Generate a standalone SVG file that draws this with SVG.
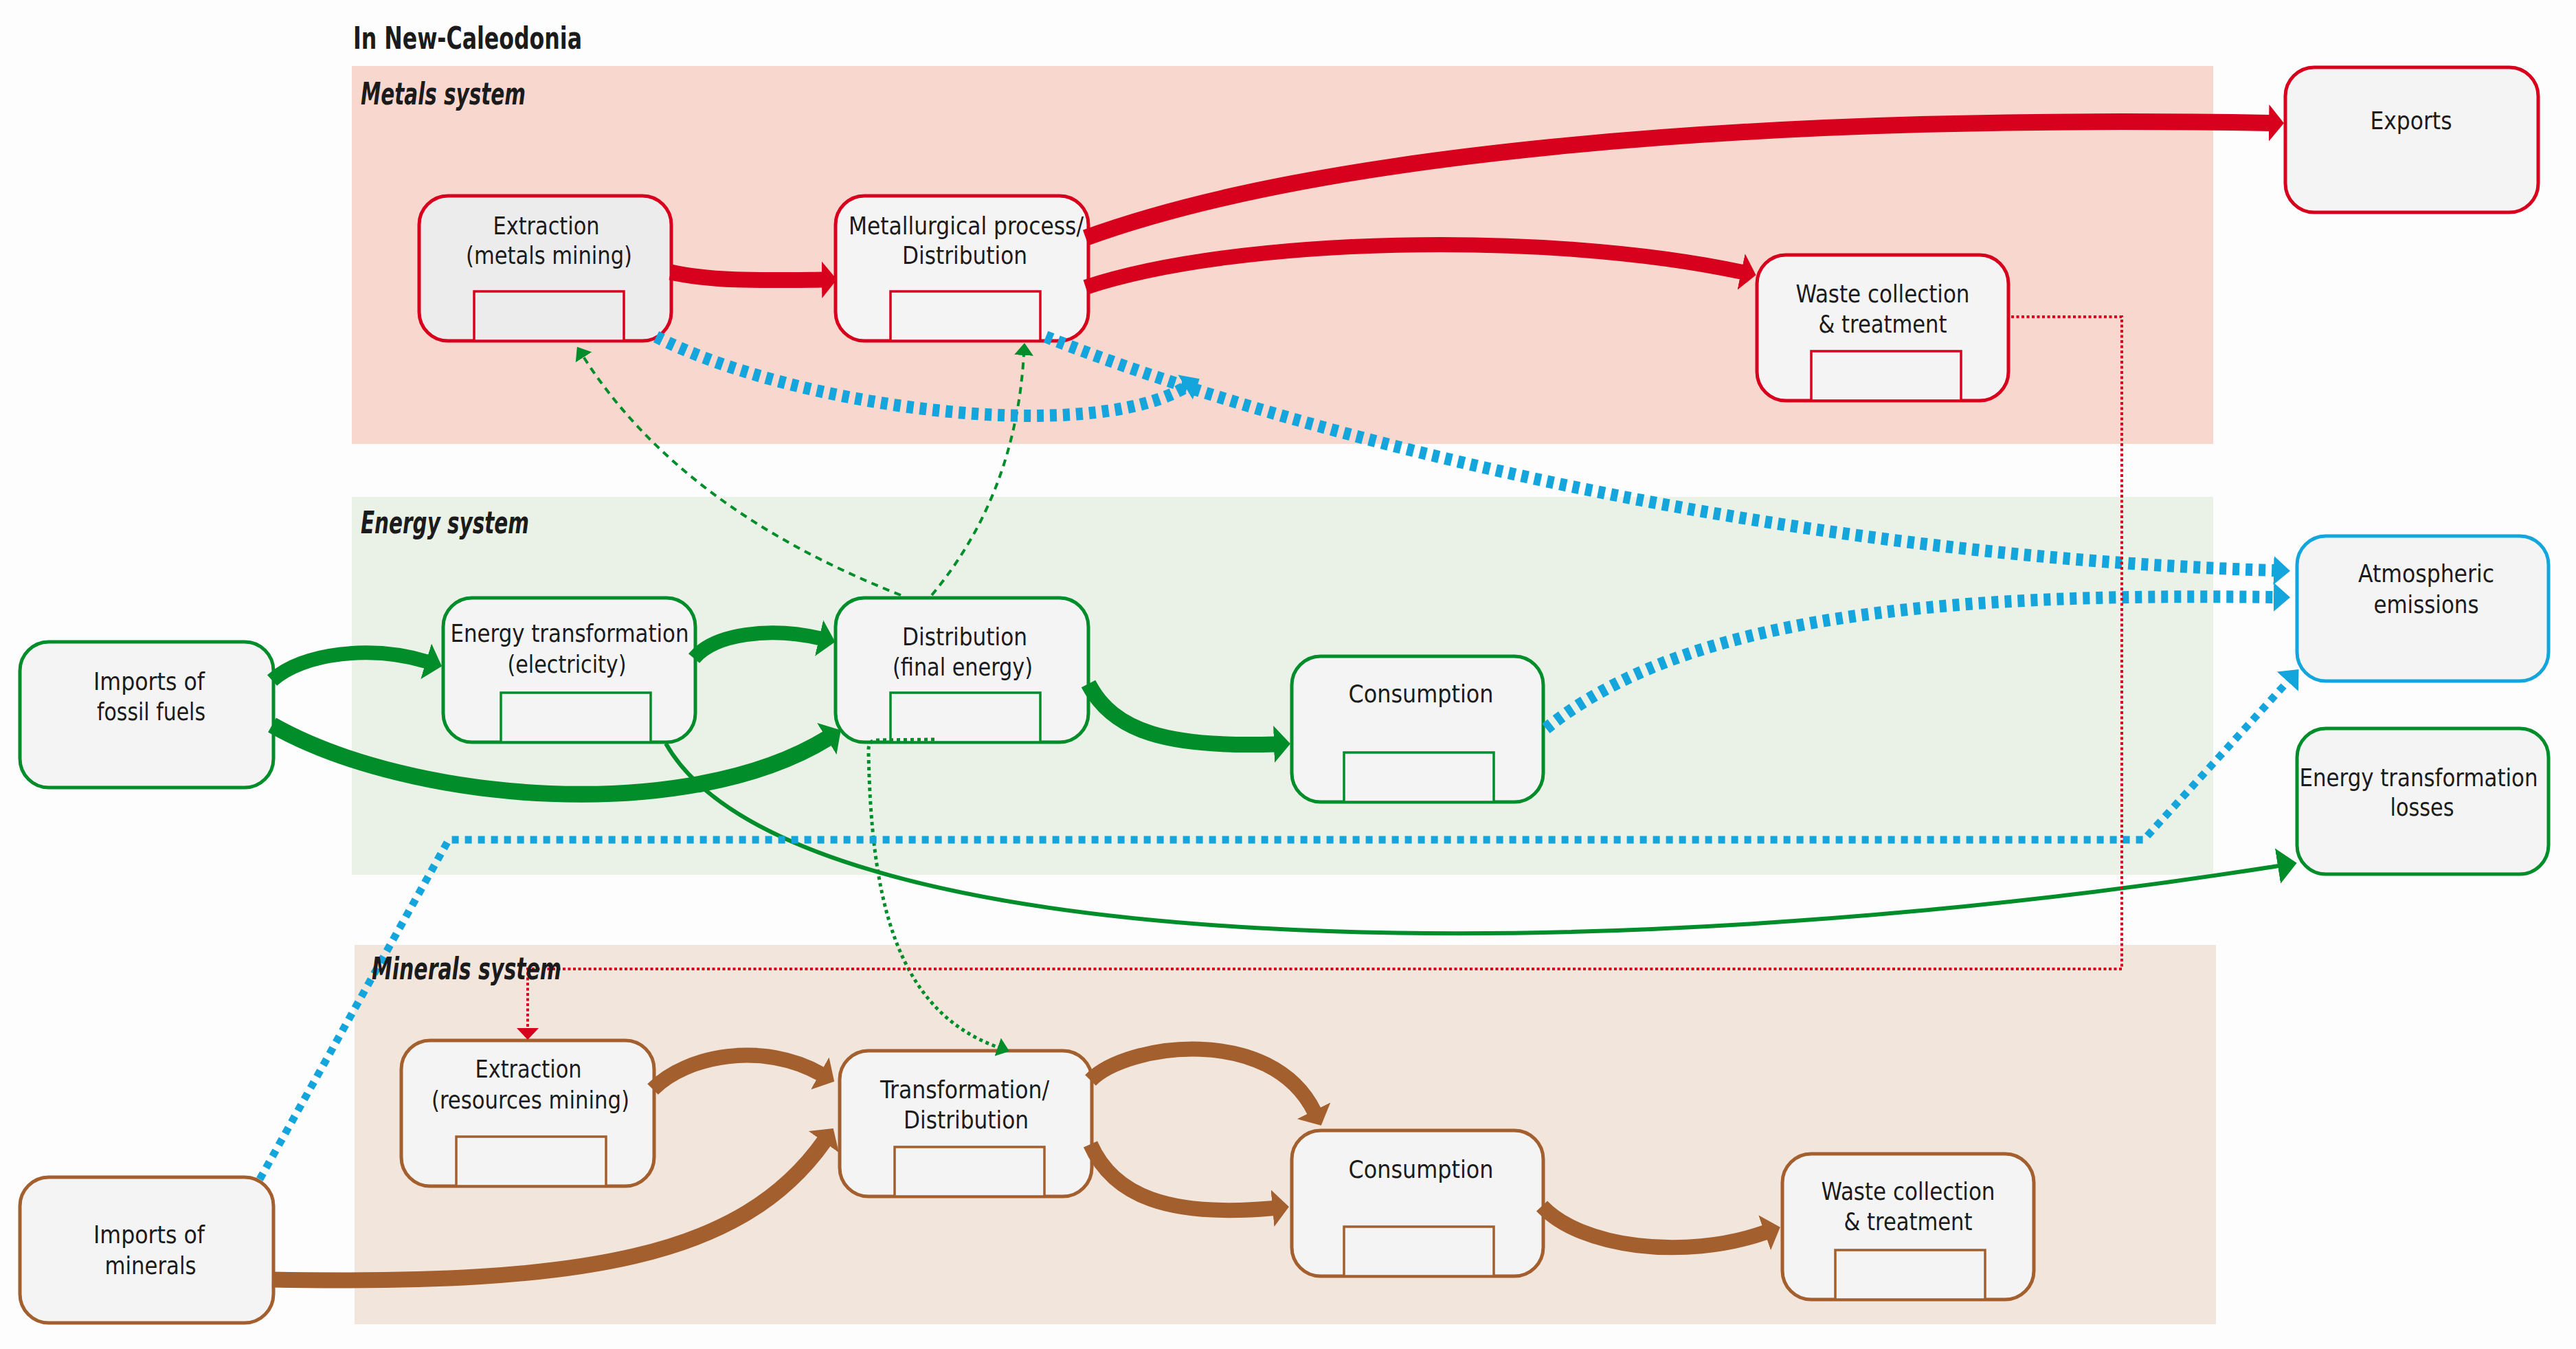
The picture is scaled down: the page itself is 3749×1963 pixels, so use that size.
<svg xmlns="http://www.w3.org/2000/svg" width="3749" height="1963" viewBox="0 0 3749 1963">
<style>
.node{stroke-width:5}
.inner{stroke-width:3.5}
.r{stroke:#d7001d}
.g{stroke:#008d2a}
.b{stroke:#a35f2d}
.bl{stroke:#13a5dc}
.t{font-family:"Liberation Sans Narrow","DejaVu Sans Condensed","Liberation Sans",sans-serif;font-size:36px;fill:#1b1b1b;text-anchor:middle}
.lab{font-family:"Liberation Sans Narrow","DejaVu Sans Condensed","Liberation Sans",sans-serif;font-size:44px;font-weight:bold;font-style:italic;fill:#1b1b1b}
.flow{fill:none}
</style>
<defs>
<marker id="mr" viewBox="0 -30 24 60" refX="2" refY="0" markerWidth="24" markerHeight="60" markerUnits="userSpaceOnUse" orient="auto"><path d="M0,-27 L22,0 L0,27 z" fill="#d7001d"/></marker>
<marker id="mg" viewBox="0 -30 26 60" refX="2" refY="0" markerWidth="26" markerHeight="60" markerUnits="userSpaceOnUse" orient="auto"><path d="M0,-27 L24,0 L0,27 z" fill="#008d2a"/></marker>
<marker id="mb" viewBox="0 -30 26 60" refX="2" refY="0" markerWidth="26" markerHeight="60" markerUnits="userSpaceOnUse" orient="auto"><path d="M0,-27 L24,0 L0,27 z" fill="#a35f2d"/></marker>
<marker id="mbl" viewBox="0 -24 26 48" refX="1" refY="0" markerWidth="26" markerHeight="48" markerUnits="userSpaceOnUse" orient="auto"><path d="M0,-21 L24,0 L0,21 z" fill="#13a5dc"/></marker>
<marker id="mgs" viewBox="0 -16 20 32" refX="1" refY="0" markerWidth="20" markerHeight="32" markerUnits="userSpaceOnUse" orient="auto"><path d="M0,-14 L18,0 L0,14 z" fill="#008d2a"/></marker>
<marker id="mgt" viewBox="0 -28 30 56" refX="1" refY="0" markerWidth="30" markerHeight="56" markerUnits="userSpaceOnUse" orient="auto"><path d="M0,-26 L28,0 L0,26 z" fill="#008d2a"/></marker>
<marker id="mrs" viewBox="0 -17 19 34" refX="1" refY="0" markerWidth="19" markerHeight="34" markerUnits="userSpaceOnUse" orient="auto"><path d="M0,-16 L17,0 L0,16 z" fill="#d7001d"/></marker>
</defs>
<rect x="0" y="0" width="3749" height="1963" fill="#fdfdfd"/>

<g id="panels">
<rect x="512" y="96" width="2709" height="550" fill="#f8d8ce"/>
<rect x="512" y="723" width="2709" height="550" fill="#eaf1e6"/>
<rect x="516" y="1375" width="2709" height="552" fill="#f1e5dc"/>
</g>

<text x="514" y="71" font-family="'Liberation Sans Narrow','DejaVu Sans Condensed','Liberation Sans',sans-serif" font-size="45" font-weight="bold" fill="#1b1b1b" textLength="333" lengthAdjust="spacingAndGlyphs">In New-Caleodonia</text>

<!-- Metals system nodes -->
<g id="n-extraction-metals">
<rect class="node r" x="610" y="285" width="367" height="211" rx="42" fill="#ececec"/>
<rect class="inner r" x="690" y="424" width="218" height="72" fill="#ececec"/>
<text class="t" x="795" y="341" textLength="155" lengthAdjust="spacingAndGlyphs">Extraction</text>
<text class="t" x="799" y="384" textLength="242" lengthAdjust="spacingAndGlyphs">(metals mining)</text>
</g>
<g id="n-metallurgical">
<rect class="node r" x="1216" y="285" width="368" height="211" rx="42" fill="#f4f4f4"/>
<rect class="inner r" x="1296" y="424" width="218" height="72" fill="#f4f4f4"/>
<text class="t" x="1406" y="341" textLength="342" lengthAdjust="spacingAndGlyphs">Metallurgical process/</text>
<text class="t" x="1404" y="384" textLength="182" lengthAdjust="spacingAndGlyphs">Distribution</text>
</g>
<g id="n-exports">
<rect class="node r" x="3326" y="98" width="368" height="211" rx="42" fill="#f4f4f4"/>
<text class="t" x="3509" y="188" textLength="119" lengthAdjust="spacingAndGlyphs">Exports</text>
</g>
<g id="n-waste-metals">
<rect class="node r" x="2557" y="371" width="366" height="212" rx="42" fill="#f4f4f4"/>
<rect class="inner r" x="2636" y="511" width="218" height="72" fill="#f4f4f4"/>
<text class="t" x="2740" y="440" textLength="253" lengthAdjust="spacingAndGlyphs">Waste collection</text>
<text class="t" x="2740" y="484" textLength="187" lengthAdjust="spacingAndGlyphs">&amp; treatment</text>
</g>

<!-- Energy system nodes -->
<g id="n-imports-fossil">
<rect class="node g" x="29" y="934" width="369" height="212" rx="42" fill="#f4f4f4"/>
<text class="t" x="217" y="1004" textLength="162" lengthAdjust="spacingAndGlyphs">Imports of</text>
<text class="t" x="220" y="1048" textLength="158" lengthAdjust="spacingAndGlyphs">fossil fuels</text>
</g>
<g id="n-energy-transformation">
<rect class="node g" x="645" y="870" width="367" height="210" rx="42" fill="#f4f4f4"/>
<rect class="inner g" x="729" y="1008" width="218" height="72" fill="#f4f4f4"/>
<text class="t" x="829" y="934" textLength="347" lengthAdjust="spacingAndGlyphs">Energy transformation</text>
<text class="t" x="825" y="979" textLength="173" lengthAdjust="spacingAndGlyphs">(electricity)</text>
</g>
<g id="n-distribution-energy">
<rect class="node g" x="1216" y="870" width="368" height="210" rx="42" fill="#f4f4f4"/>
<rect class="inner g" x="1296" y="1008" width="218" height="72" fill="#f4f4f4"/>
<text class="t" x="1404" y="939" textLength="182" lengthAdjust="spacingAndGlyphs">Distribution</text>
<text class="t" x="1401" y="983" textLength="204" lengthAdjust="spacingAndGlyphs">(final energy)</text>
</g>
<g id="n-consumption-energy">
<rect class="node g" x="1880" y="955" width="366" height="212" rx="42" fill="#f4f4f4"/>
<rect class="inner g" x="1956" y="1095" width="218" height="72" fill="#f4f4f4"/>
<text class="t" x="2068" y="1022" textLength="211" lengthAdjust="spacingAndGlyphs">Consumption</text>
</g>
<g id="n-atmospheric">
<rect class="node bl" x="3343" y="780" width="366" height="211" rx="42" fill="#f4f4f4"/>
<text class="t" x="3531" y="847" textLength="198" lengthAdjust="spacingAndGlyphs">Atmospheric</text>
<text class="t" x="3531" y="892" textLength="153" lengthAdjust="spacingAndGlyphs">emissions</text>
</g>
<g id="n-losses">
<rect class="node g" x="3343" y="1060" width="366" height="212" rx="42" fill="#f4f4f4"/>
<text class="t" x="3520" y="1144" textLength="347" lengthAdjust="spacingAndGlyphs">Energy transformation</text>
<text class="t" x="3525" y="1187" textLength="93" lengthAdjust="spacingAndGlyphs">losses</text>
</g>

<!-- Minerals system nodes -->
<g id="n-imports-minerals">
<rect class="node b" x="29" y="1713" width="369" height="212" rx="42" fill="#f4f4f4"/>
<text class="t" x="217" y="1809" textLength="162" lengthAdjust="spacingAndGlyphs">Imports of</text>
<text class="t" x="219" y="1854" textLength="133" lengthAdjust="spacingAndGlyphs">minerals</text>
</g>
<g id="n-extraction-resources">
<rect class="node b" x="584" y="1514" width="368" height="212" rx="42" fill="#f4f4f4"/>
<rect class="inner b" x="664" y="1654" width="218" height="72" fill="#f4f4f4"/>
<text class="t" x="769" y="1568" textLength="155" lengthAdjust="spacingAndGlyphs">Extraction</text>
<text class="t" x="772" y="1613" textLength="288" lengthAdjust="spacingAndGlyphs">(resources mining)</text>
</g>
<g id="n-transformation">
<rect class="node b" x="1222" y="1529" width="367" height="212" rx="42" fill="#f4f4f4"/>
<rect class="inner b" x="1302" y="1669" width="218" height="72" fill="#f4f4f4"/>
<text class="t" x="1404" y="1598" textLength="246" lengthAdjust="spacingAndGlyphs">Transformation/</text>
<text class="t" x="1406" y="1642" textLength="182" lengthAdjust="spacingAndGlyphs">Distribution</text>
</g>
<g id="n-consumption-minerals">
<rect class="node b" x="1880" y="1645" width="366" height="212" rx="42" fill="#f4f4f4"/>
<rect class="inner b" x="1956" y="1785" width="218" height="72" fill="#f4f4f4"/>
<text class="t" x="2068" y="1714" textLength="211" lengthAdjust="spacingAndGlyphs">Consumption</text>
</g>
<g id="n-waste-minerals">
<rect class="node b" x="2594" y="1679" width="366" height="212" rx="42" fill="#f4f4f4"/>
<rect class="inner b" x="2671" y="1819" width="218" height="72" fill="#f4f4f4"/>
<text class="t" x="2777" y="1746" textLength="253" lengthAdjust="spacingAndGlyphs">Waste collection</text>
<text class="t" x="2777" y="1790" textLength="187" lengthAdjust="spacingAndGlyphs">&amp; treatment</text>
</g>

<g id="connectors" class="flow">
<!-- metals -->
<path class="r" stroke-width="23" d="M976,396 C1040,410 1110,408 1198,407" marker-end="url(#mr)"/>
<path class="r" stroke-width="24" d="M1580,346 C1900,230 2500,165 3304,179" marker-end="url(#mr)"/>
<path class="r" stroke-width="22" d="M1580,418 C1800,345 2250,335 2536,396" marker-end="url(#mr)"/>
<!-- energy -->
<path class="g" stroke-width="21" d="M396,990 C440,950 540,938 622,963" marker-end="url(#mg)"/>
<path class="g" stroke-width="21" d="M1010,958 C1040,922 1120,912 1194,929" marker-end="url(#mg)"/>
<path class="g" stroke-width="24" d="M396,1055 C600,1170 1000,1200 1205,1074" marker-end="url(#mg)"/>
<path class="g" stroke-width="23" d="M1584,995 C1620,1065 1700,1088 1856,1083" marker-end="url(#mg)"/>
<path class="g" stroke-width="6" d="M969,1082 C1150,1400 2300,1420 3316,1260" marker-end="url(#mgt)"/>
<path class="g" stroke-width="4" stroke-dasharray="10 8" d="M1311,866 Q990,740 849,519" marker-end="url(#mgs)"/>
<path class="g" stroke-width="4" stroke-dasharray="10 8" d="M1356,866 Q1478,720 1490,516" marker-end="url(#mgs)"/>
<path class="g" stroke-width="5" stroke-dasharray="5 5" d="M1360,1076 L1274,1077 Q1263,1078 1264,1095 C1268,1300 1300,1470 1453,1524" marker-end="url(#mgs)"/>
<!-- minerals -->
<path class="b" stroke-width="22" d="M950,1585 C1000,1535 1110,1515 1195,1563" marker-end="url(#mb)"/>
<path class="b" stroke-width="23" d="M396,1862 C850,1870 1080,1830 1200,1660" marker-end="url(#mb)"/>
<path class="b" stroke-width="22" d="M1587,1572 C1640,1518 1850,1490 1913,1618" marker-end="url(#mb)"/>
<path class="b" stroke-width="22" d="M1587,1665 C1620,1740 1700,1772 1854,1758" marker-end="url(#mb)"/>
<path class="b" stroke-width="22" d="M2244,1755 C2300,1815 2450,1835 2570,1793" marker-end="url(#mb)"/>
<!-- emissions -->
<path class="bl" stroke-width="18" stroke-dasharray="10 9" d="M955,490 C1150,590 1580,650 1726,563" marker-end="url(#mbl)"/>
<path class="bl" stroke-width="18" stroke-dasharray="10 9" d="M1522,490 C1900,640 2600,810 3310,830" marker-end="url(#mbl)"/>
<path class="bl" stroke-width="18" stroke-dasharray="10 9" d="M2250,1060 C2450,900 2800,862 3310,869" marker-end="url(#mbl)"/>
<path class="bl" stroke-width="11" stroke-dasharray="10 9" d="M378,1716 L653,1222 L3120,1222 L3330,991" marker-end="url(#mbl)"/>
<!-- waste recycling -->
<path class="r" stroke-width="4" stroke-dasharray="4 3.5" d="M2927,461 H3088 V1410 H768 V1497" marker-end="url(#mrs)"/>
</g>

<g id="labels">
<text class="lab" x="525" y="152" textLength="240" lengthAdjust="spacingAndGlyphs">Metals system</text>
<text class="lab" x="525" y="776" textLength="245" lengthAdjust="spacingAndGlyphs">Energy system</text>
<text class="lab" x="541" y="1425" textLength="276" lengthAdjust="spacingAndGlyphs">Minerals system</text>
</g>
</svg>
